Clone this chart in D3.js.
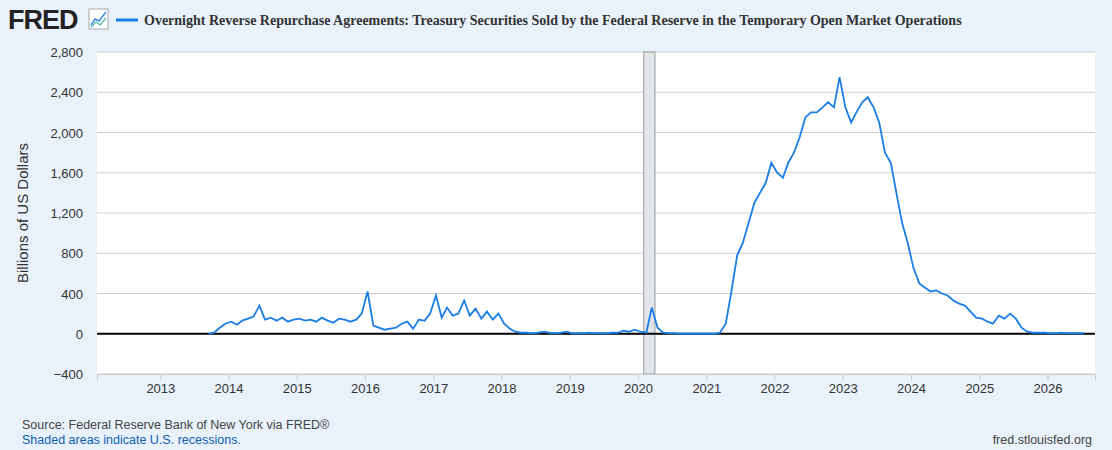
<!DOCTYPE html>
<html><head><meta charset="utf-8">
<script src="https://cdn.jsdelivr.net/npm/d3@7"></script>
<style>body{margin:0;background:#e9f1fa;font-family:"Liberation Sans",Arial,sans-serif}</style>
</head><body><svg id="c" width="1112" height="450"></svg>
<script>
// monthly values, billions of US dollars, starting Sep 2013
var startYear = 2013, startMonth = 8;
var values = [
  0, 10, 60, 100,
  120, 90, 130, 150, 170, 280, 140, 160, 130, 160, 120, 140,
  150, 130, 140, 120, 160, 130, 110, 150, 140, 120, 140, 200,
  420, 80, 60, 40, 50, 60, 100, 120, 50, 140, 130, 200,
  380, 160, 260, 180, 200, 330, 180, 250, 150, 220, 140, 200,
  100, 50, 20, 10, 10, 5, 10, 20, 10, 5, 10, 20,
  5, 5, 5, 10, 5, 5, 5, 10, 10, 30, 20, 40,
  20, 10, 260, 60, 10, 5, 5, 0, 0, 0, 0, 0,
  0, 0, 10, 100, 420, 780, 900, 1100, 1300, 1400, 1500, 1700,
  1600, 1550, 1700, 1800, 1950, 2150, 2200, 2200, 2250, 2300, 2250, 2550,
  2250, 2100, 2200, 2300, 2350, 2250, 2100, 1800, 1700, 1400, 1100, 900,
  650, 500, 460, 420, 430, 400, 380, 330, 300, 280, 220, 160,
  150, 120, 100, 180, 150, 200, 150, 60, 20, 10, 10, 10,
  5, 5, 10, 5, 5, 5, 5
];
var yTicks = [-400, 0, 400, 800, 1200, 1600, 2000, 2400, 2800];
var xYears = d3.range(2013, 2027);
var recession = [new Date(2020, 1, 1), new Date(2020, 3, 1)];

var data = values.map(function(v, i){
  return {date: new Date(startYear, startMonth + i, 15), value: v};
});

var svg = d3.select("#c");
var L = 97, R = 1095, T = 52, B = 374;
var x = d3.scaleTime().domain([new Date(2012, 0, 28), new Date(2026, 8, 12)]).range([L, R]);
var y = d3.scaleLinear().domain([-400, 2800]).range([B, T]);

svg.append("rect").attr("x", L).attr("y", T).attr("width", R - L).attr("height", B - T).attr("fill", "#fff");

svg.selectAll(".grid").data(yTicks).enter().append("line")
  .attr("x1", L).attr("x2", R).attr("y1", function(d){return y(d);}).attr("y2", function(d){return y(d);})
  .attr("stroke", "#d0d0d0").attr("stroke-width", 1);

svg.append("rect").attr("x", x(recession[0])).attr("y", T)
  .attr("width", x(recession[1]) - x(recession[0])).attr("height", B - T)
  .attr("fill", "#e1e5ea").attr("stroke", "#999").attr("stroke-width", 1);

svg.append("line").attr("x1", L).attr("x2", R).attr("y1", y(0)).attr("y2", y(0))
  .attr("stroke", "#000").attr("stroke-width", 2);

svg.append("path").datum(data)
  .attr("d", d3.line().x(function(d){return x(d.date);}).y(function(d){return y(d.value);}))
  .attr("fill", "none").attr("stroke", "#1a7ee6").attr("stroke-width", 1.8);

svg.selectAll(".ylab").data(yTicks).enter().append("text")
  .attr("x", 83).attr("y", function(d){return y(d) + 5;}).attr("text-anchor", "end")
  .attr("font-size", 13).attr("fill", "#333").text(function(d){return d3.format(",")(d);});

var xa = svg.append("g").attr("transform", "translate(0," + B + ")")
  .call(d3.axisBottom(x).tickValues(xYears.map(function(yr){return new Date(yr, 0, 1);}))
    .tickFormat(d3.timeFormat("%Y")).tickSize(6).tickPadding(4));
xa.select(".domain").attr("stroke", "#ccc");
xa.selectAll(".tick line").attr("stroke", "#ccc");
xa.selectAll("text").attr("font-size", 13).attr("fill", "#333").attr("font-family", "Liberation Sans, Arial");

svg.append("text").attr("transform", "translate(28," + ((T + B) / 2) + ") rotate(-90)")
  .attr("text-anchor", "middle").attr("font-size", 15).attr("fill", "#333").text("Billions of US Dollars");

// header
svg.append("text").attr("x", 8).attr("y", 29).attr("font-size", 27).attr("font-weight", "bold")
  .attr("fill", "#222").attr("letter-spacing", -1).text("FRED");
svg.append("rect").attr("x", 89).attr("y", 9).attr("width", 19).attr("height", 20)
  .attr("fill", "#fff").attr("stroke", "#aaa");
svg.append("polyline").attr("points", "91,25 95,19 99,21 106,12").attr("fill", "none").attr("stroke", "#3a8ee6").attr("stroke-width", 1.5);
svg.append("polyline").attr("points", "91,27 96,22 100,25 106,18").attr("fill", "none").attr("stroke", "#4cb8a0").attr("stroke-width", 1.2);
svg.append("line").attr("x1", 116).attr("x2", 138).attr("y1", 20).attr("y2", 20).attr("stroke", "#1a7ee6").attr("stroke-width", 3);
svg.append("text").attr("x", 144).attr("y", 25).attr("font-family", "Liberation Serif, Times New Roman, serif")
  .attr("font-size", 14).attr("font-weight", "bold").attr("fill", "#333")
  .text("Overnight Reverse Repurchase Agreements: Treasury Securities Sold by the Federal Reserve in the Temporary Open Market Operations");

svg.append("text").attr("x", 22).attr("y", 429).attr("font-size", 12.5).attr("fill", "#444")
  .text("Source: Federal Reserve Bank of New York via FRED\u00ae");
svg.append("text").attr("x", 22).attr("y", 444).attr("font-size", 12.5).attr("fill", "#0d5fb3")
  .text("Shaded areas indicate U.S. recessions.");
svg.append("text").attr("x", 1092).attr("y", 444).attr("text-anchor", "end").attr("font-size", 12.5).attr("fill", "#444")
  .text("fred.stlouisfed.org");
</script></body></html>
